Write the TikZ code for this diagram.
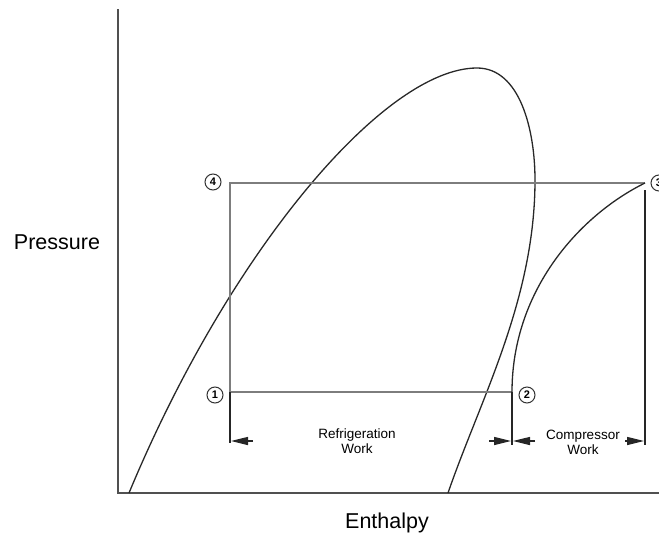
\documentclass[tikz,border=0pt]{standalone}
\usepackage{fontspec}
\setmainfont{Liberation Sans}
\usetikzlibrary{arrows.meta}
\definecolor{cycleline}{RGB}{125,125,125}
\definecolor{axisline}{RGB}{80,80,80}
\definecolor{domeline}{RGB}{40,40,40}

\begin{document}
\begin{tikzpicture}[x=1pt,y=-1pt,
    axis/.style={draw=axisline,line width=1.8pt},
    cyc/.style={draw=cycleline,line width=1.6pt},
    curve/.style={draw=domeline,line width=1.3pt},
    tick/.style={draw=black!85,line width=1.3pt},
    dimarrow/.style={-{Triangle[length=17pt,width=8pt]},draw=black!85,line width=1.3pt},
    statept/.style={circle,draw=black!80,line width=1pt,inner sep=0pt,minimum size=16pt,font=\fontsize{11}{11}\selectfont\bfseries},
    axlabel/.style={font=\fontsize{21.5}{24}\selectfont},
    worklabel/.style={font=\fontsize{13.5}{15}\selectfont,align=center}]
  \useasboundingbox (0,0) rectangle (659,533);

  % axes
  \coordinate (ytop) at (118,9);
  \coordinate (origin) at (118,493);
  \coordinate (xend) at (659,493);
  \draw[axis] (ytop) -- (origin) -- (xend);
  \node[axlabel,anchor=base] (pressure) at (57,249) {Pressure};
  \node[axlabel,anchor=base] (enthalpy) at (387,528) {Enthalpy};

  % saturation dome
  \coordinate (liqfoot) at (129,493);
  \coordinate (crit) at (477,68);
  \coordinate (vapnose) at (535,180);
  \coordinate (vapfoot) at (448,493);
  \draw[curve] (liqfoot) .. controls (230,250) and (385,68) .. (crit)
    .. controls (520,68) and (535,130) .. (vapnose)
    .. controls (535,300) and (480,400) .. (vapfoot);

  % cycle
  \coordinate (pt1) at (230,392);
  \coordinate (pt2) at (512,392);
  \coordinate (pt3) at (645,183);
  \coordinate (pt4) at (230,183);
  \draw[cyc] (pt2) -- (pt1) -- (pt4) -- (pt3);
  \draw[curve] (pt3) .. controls (580,215) and (512,290) .. (pt2);

  \node[statept] (n1) at (215,395) {1};
  \node[statept] (n2) at (527,395) {2};
  \node[statept] (n3) at (659,183) {3};
  \node[statept] (n4) at (213,182) {4};

  % work dimensions
  \coordinate (t1) at (230,443);
  \coordinate (t2) at (512,445);
  \coordinate (t3top) at (645,190);
  \coordinate (t3) at (645,445);
  \draw[tick] (pt1) -- (t1);
  \draw[tick] (pt2) -- (t2);
  \draw[tick] (t3top) -- (t3);

  \draw[dimarrow] (253,441) -- (231,441);
  \draw[dimarrow] (489,441) -- (511,441);
  \draw[dimarrow] (535,441) -- (513,441);
  \draw[dimarrow] (625,441) -- (644,441);

  \node[worklabel] (refwork) at (357,441) {Refrigeration\\Work};
  \node[worklabel] (compwork) at (583,442) {Compressor\\Work};
\end{tikzpicture}
\end{document}
